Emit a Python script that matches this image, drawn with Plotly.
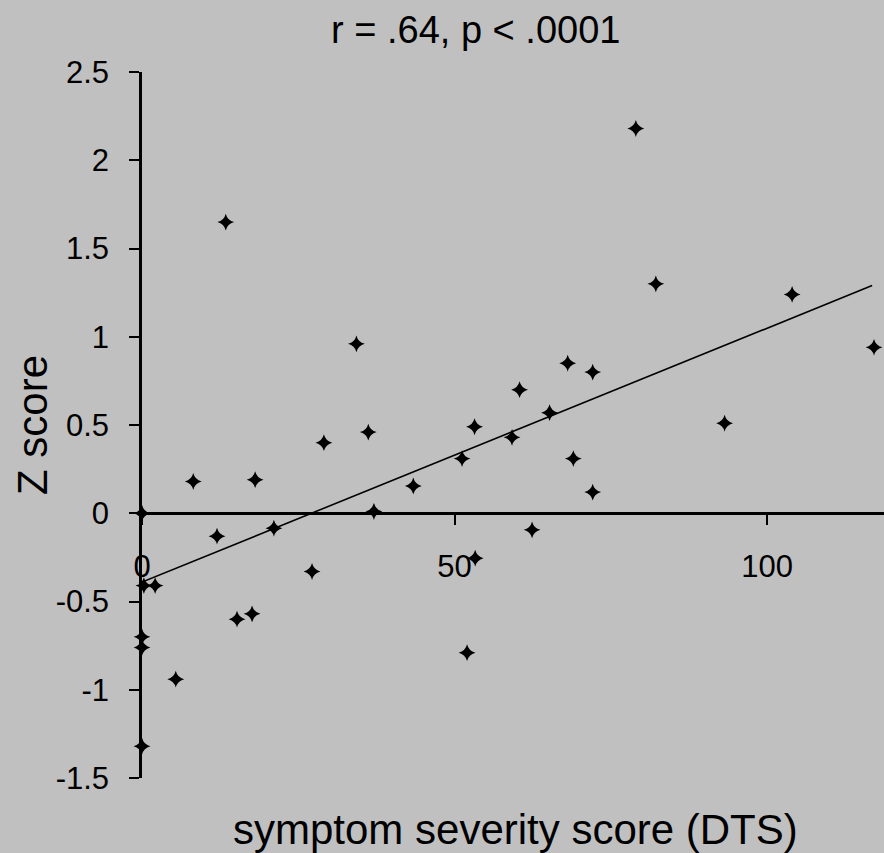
import plotly.graph_objects as go

# Data
dts = [79.0, 13.4, 34.3, 82.2, 104.0, 117.1, 68.1, 72.1, 60.4, 65.2,
       53.2, 59.2, 36.2, 29.1, 93.2, 8.2, 18.1, 51.2, 69.0, 72.1,
       43.4, 37.1, 0.0, 12.0, 21.1, 62.4, 27.2, 53.3, 0.3, 2.1,
       15.2, 17.6, 0.0, 0.0, 5.4, 52.0, 0.0]
zscore = [2.18, 1.65, 0.96, 1.30, 1.24, 0.94, 0.85, 0.80, 0.70, 0.57,
          0.49, 0.43, 0.46, 0.40, 0.51, 0.18, 0.19, 0.31, 0.31, 0.12,
          0.155, 0.01, 0.0, -0.13, -0.085, -0.094, -0.33, -0.255, -0.41, -0.41,
          -0.60, -0.57, -0.70, -0.76, -0.94, -0.79, -1.32]

fit_x = [0.0, 116.8]
fit_y = [-0.39, 1.29]

y_tickvals = [2.5, 2, 1.5, 1, 0.5, 0, -0.5, -1, -1.5]
y_ticktext = ["2.5", "2", "1.5", "1", "0.5", "0", "-0.5", "-1", "-1.5"]
x_tickvals = [0, 50, 100]
x_ticktext = ["0", "50", "100"]

title_text = "r = .64, p < .0001"
x_title = "symptom severity score (DTS)"
y_title = "Z score"

FONT = "Liberation Sans, Arial, sans-serif"
BG = "#c0c0c0"

fig = go.Figure()
fig.add_trace(go.Scatter(x=fit_x, y=fit_y, mode="lines",
                         line=dict(color="black", width=1.6),
                         hoverinfo="skip", cliponaxis=False))
fig.add_trace(go.Scatter(x=dts, y=zscore, mode="markers",
                         marker=dict(symbol="star-diamond", size=12, color="black",
                                     line=dict(width=0)),
                         cliponaxis=False))

fig.update_layout(
    width=884, height=853,
    margin=dict(l=142, r=0, t=72, b=75),
    paper_bgcolor=BG, plot_bgcolor=BG,
    showlegend=False,
    font=dict(family=FONT, color="black"),
    xaxis=dict(range=[0, 118.7], showgrid=False, zeroline=False,
               showline=True, linecolor="black", linewidth=2.5,
               ticks="outside", ticklen=10, tickwidth=2, tickcolor="black",
               tickvals=x_tickvals, ticktext=x_ticktext,
               tickfont=dict(size=31, family=FONT, color="black"),
               ticklabelstandoff=15,
               anchor="free", position=0.375),
    yaxis=dict(range=[-1.5, 2.5], showgrid=False, zeroline=False,
               showline=True, linecolor="black", linewidth=2.5,
               ticks="outside", ticklen=10, tickwidth=2, tickcolor="black",
               tickvals=y_tickvals, ticktext=y_ticktext,
               tickfont=dict(size=31, family=FONT, color="black"),
               ticklabelstandoff=14),
)

fig.add_annotation(text=title_text, xref="paper", yref="paper",
                   x=(475 - 142) / 742, y=(778 - 30) / 706,
                   xanchor="center", yanchor="middle", showarrow=False,
                   font=dict(size=38, family=FONT, color="black"))
fig.add_annotation(text=y_title, xref="paper", yref="paper",
                   x=(32 - 142) / 742, y=0.5, textangle=-90,
                   xanchor="center", yanchor="middle", showarrow=False,
                   font=dict(size=42, family=FONT, color="black"))
fig.add_annotation(text=x_title, xref="paper", yref="paper",
                   x=(515 - 142) / 742, y=(778 - 829) / 706,
                   xanchor="center", yanchor="middle", showarrow=False,
                   font=dict(size=42, family=FONT, color="black"))

fig.write_html("out.html",
               config={"displayModeBar": False},
               post_script="document.body.style.margin='0';"
                           "document.body.style.background='#c0c0c0';")
